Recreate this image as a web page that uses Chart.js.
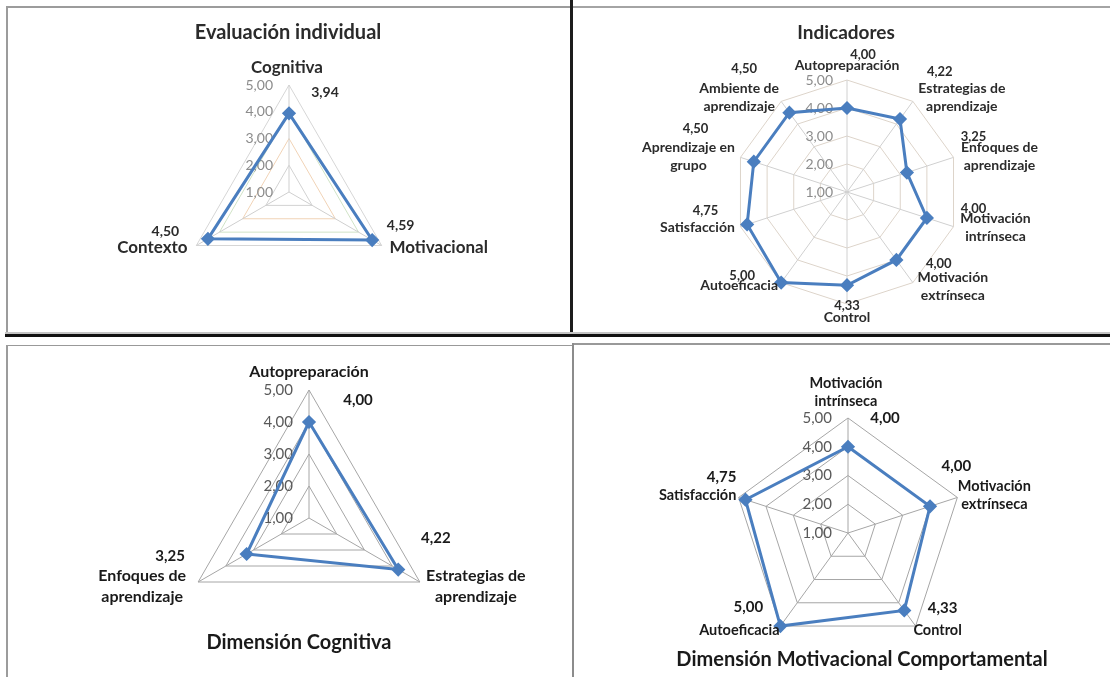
<!DOCTYPE html>
<html lang="es">
<head>
<meta charset="utf-8">
<title>Evaluación individual</title>
<script src="https://cdn.jsdelivr.net/npm/chart.js@4.4.0/dist/chart.umd.min.js"></script>
<style>
  body { margin: 0; background: #fff; width: 1110px; height: 677px; overflow: hidden; position: relative; }
  canvas { position: absolute; }
  .linea { position: absolute; z-index: 2; }
</style>
</head>
<body>
<canvas id="grafIndividual"></canvas>
<canvas id="grafIndicadores"></canvas>
<canvas id="grafCognitiva"></canvas>
<canvas id="grafMotivacional"></canvas>

<div class="linea" style="left:6px;top:6px;width:565px;height:2px;background:#9c9c9c"></div>
<div class="linea" style="left:6px;top:6px;width:2px;height:328px;background:#9c9c9c"></div>
<div class="linea" style="left:571px;top:6px;width:539px;height:2px;background:#a4a4a4"></div>
<div class="linea" style="left:570px;top:0;width:3px;height:337px;background:#1c1c1c"></div>
<div class="linea" style="left:5px;top:332px;width:1105px;height:2px;background:#c4c4c4"></div>
<div class="linea" style="left:5px;top:334px;width:1105px;height:3px;background:#111"></div>
<div class="linea" style="left:6px;top:345px;width:567px;height:1px;background:#999"></div>
<div class="linea" style="left:6px;top:345px;width:2px;height:332px;background:#9c9c9c"></div>
<div class="linea" style="left:572px;top:343px;width:538px;height:2px;background:#999"></div>
<div class="linea" style="left:572px;top:343px;width:2px;height:334px;background:#8c8c8c"></div>

<script>
// datos
const individualCategorias = ['Cognitiva', 'Motivacional', 'Contexto'];
const individualValores = [3.94, 4.59, 4.50];

const indicadoresCategorias = [
  'Autopreparación', ['Estrategias de', 'aprendizaje'], ['Enfoques de', 'aprendizaje'],
  ['Motivación', 'intrínseca'], ['Motivación', 'extrínseca'], 'Control', 'Autoeficacia',
  'Satisfacción', ['Aprendizaje en', 'grupo'], ['Ambiente de', 'aprendizaje']
];
const indicadoresValores = [4.00, 4.22, 3.25, 4.00, 4.00, 4.33, 5.00, 4.75, 4.50, 4.50];

const cognitivaCategorias = ['Autopreparación', ['Estrategias de', 'aprendizaje'], ['Enfoques de', 'aprendizaje']];
const cognitivaValores = [4.00, 4.22, 3.25];

const motivacionalCategorias = [['Motivación', 'intrínseca'], ['Motivación', 'extrínseca'], 'Control', 'Autoeficacia', 'Satisfacción'];
const motivacionalValores = [4.00, 4.00, 4.33, 5.00, 4.75];

const escalaMin = 1;
const escalaMax = 5;
const escalaPaso = 1;

const azul = '#4a7ebf';
const fuente = 'Lato, "Noto Sans", sans-serif';

function fmt(v) {
  return Number(v).toFixed(2).replace('.', ',');
}

// textos a la manera de Excel: escala a la izquierda del eje, rótulos y valores junto a cada vértice
const textoRadar = {
  id: 'textoRadar',
  beforeDatasetsDraw(chart, args, o) {
    const r = chart.scales.r, ctx = chart.ctx;
    ctx.save();
    ctx.font = o.tickFont;
    ctx.fillStyle = o.tickColor;
    ctx.textAlign = 'right';
    ctx.textBaseline = 'middle';
    r.ticks.forEach(t => {
      ctx.fillText(t.label, r.xCenter - o.tickGap, r.yCenter - r.getDistanceFromCenterForValue(t.value));
    });
    ctx.restore();
  },
  afterDraw(chart, args, o) {
    const r = chart.scales.r, ctx = chart.ctx;
    const etiquetas = chart.data.labels;
    const valores = chart.data.datasets[0].data;
    ctx.save();
    ctx.textAlign = 'center';
    ctx.textBaseline = 'middle';
    ctx.fillStyle = o.color;
    etiquetas.forEach((lab, i) => {
      const p = r.getPointPositionForValue(i, r.max);
      const lineas = [].concat(lab);
      const [cx, cy] = o.catOffsets[i];
      ctx.font = o.catFont;
      lineas.forEach((s, k) => {
        ctx.fillText(s, p.x + cx, p.y + cy + (k - (lineas.length - 1) / 2) * o.lineHeight);
      });
      const [vx, vy] = o.valOffsets[i];
      ctx.font = o.valFont;
      ctx.fillText(fmt(valores[i]), p.x + vx, p.y + vy);
    });
    ctx.font = o.titleFont;
    ctx.fillStyle = o.titleColor;
    ctx.fillText(o.title, o.titleX, o.titleY);
    ctx.restore();
  }
};

function radar(id, caja, geo, etiquetas, valores, rejilla, texto) {
  const canvas = document.getElementById(id);
  canvas.width = caja.w;
  canvas.height = caja.h;
  canvas.style.left = caja.x + 'px';
  canvas.style.top = caja.y + 'px';
  const cx = geo.cx - caja.x, cy = geo.cy - caja.y;
  texto.titleX -= caja.x;
  texto.titleY -= caja.y;
  new Chart(canvas, {
    type: 'radar',
    data: {
      labels: etiquetas,
      datasets: [{
        data: valores,
        borderColor: azul,
        backgroundColor: azul,
        borderWidth: 3,
        fill: false,
        clip: false,
        pointStyle: 'rectRot',
        pointRadius: 5,
        pointBackgroundColor: azul,
        pointBorderColor: azul
      }]
    },
    options: {
      responsive: false,
      animation: false,
      layout: {
        padding: { left: cx - geo.r, top: cy - geo.r, right: caja.w - cx - geo.r, bottom: caja.h - cy - geo.r }
      },
      plugins: {
        legend: { display: false },
        tooltip: { enabled: false },
        textoRadar: texto
      },
      scales: {
        r: {
          min: escalaMin,
          max: escalaMax,
          ticks: { stepSize: escalaPaso, display: false, callback: v => fmt(v) },
          pointLabels: { display: false },
          grid: { color: rejilla.anillos, lineWidth: 1 },
          angleLines: { color: rejilla.ejes, lineWidth: 1 }
        }
      },
      elements: { line: { tension: 0 } }
    },
    plugins: [textoRadar]
  });
}

radar('grafIndividual',
  { x: 0, y: 0, w: 570, h: 334 }, { cx: 289, cy: 192, r: 107 },
  individualCategorias, individualValores,
  { anillos: ['#cfcfcf', '#d2d2d2', '#f1d3b6', '#d0e3c6', '#d6d6d6'], ejes: '#cfcfcf' },
  {
    tickFont: '14px ' + fuente, tickColor: '#8c8c8c', tickGap: 16,
    catFont: 'bold 17px ' + fuente, valFont: 'bold 14px ' + fuente, color: '#2b2b2b', lineHeight: 18,
    catOffsets: [[-2, -17], [57, 2], [-44, 2]],
    valOffsets: [[36, 7], [19, -20], [-31, -14]],
    title: 'Evaluación individual', titleFont: 'bold 20px ' + fuente, titleColor: '#2b2b2b',
    titleX: 288, titleY: 33
  });

radar('grafIndicadores',
  { x: 573, y: 0, w: 537, h: 334 }, { cx: 847, cy: 192, r: 112 },
  indicadoresCategorias, indicadoresValores,
  { anillos: '#ddd4ca', ejes: '#d0d0d0' },
  {
    tickFont: '14px ' + fuente, tickColor: '#8c8c8c', tickGap: 14,
    catFont: 'bold 14px ' + fuente, valFont: 'bold 13px ' + fuente, color: '#2b2b2b', lineHeight: 18,
    catOffsets: [[0, -15], [49, -4], [46, -1], [42, 1], [40, 4], [0, 13], [-42, 3], [-43, 1], [-52, -1], [-42, -4]],
    valOffsets: [[16, -25], [27, -30], [20, -21], [20, -18], [26, -19], [0, 2], [-39, -7], [-35, -16], [-45, -29], [-37, -33]],
    title: 'Indicadores', titleFont: 'bold 19px ' + fuente, titleColor: '#2b2b2b',
    titleX: 846, titleY: 33
  });

radar('grafCognitiva',
  { x: 0, y: 346, w: 572, h: 331 }, { cx: 309, cy: 518, r: 128 },
  cognitivaCategorias, cognitivaValores,
  { anillos: '#a6a6a6', ejes: '#a6a6a6' },
  {
    tickFont: '15px ' + fuente, tickColor: '#595959', tickGap: 16,
    catFont: 'bold 16px ' + fuente, valFont: 'bold 15px ' + fuente, color: '#1a1a1a', lineHeight: 21,
    catOffsets: [[0, -18], [56, 4], [-56, 4]],
    valOffsets: [[49, 10], [16, -44], [-28, -26]],
    title: 'Dimensión Cognitiva', titleFont: 'bold 20px ' + fuente, titleColor: '#1a1a1a',
    titleX: 299, titleY: 643
  });

radar('grafMotivacional',
  { x: 574, y: 345, w: 536, h: 332 }, { cx: 848, cy: 533, r: 115 },
  motivacionalCategorias, motivacionalValores,
  { anillos: '#a6a6a6', ejes: '#a6a6a6' },
  {
    tickFont: '15px ' + fuente, tickColor: '#595959', tickGap: 16,
    catFont: 'bold 14.5px ' + fuente, valFont: 'bold 15px ' + fuente, color: '#1a1a1a', lineHeight: 18,
    catOffsets: [[-2, -26], [37, -2], [22, 4], [-41, 4], [-41, -2]],
    valOffsets: [[37, 0], [-1, -31], [27, -18], [-32, -19], [-17, -20]],
    title: 'Dimensión Motivacional Comportamental', titleFont: 'bold 20px ' + fuente, titleColor: '#1a1a1a',
    titleX: 862, titleY: 660
  });
</script>
</body>
</html>
